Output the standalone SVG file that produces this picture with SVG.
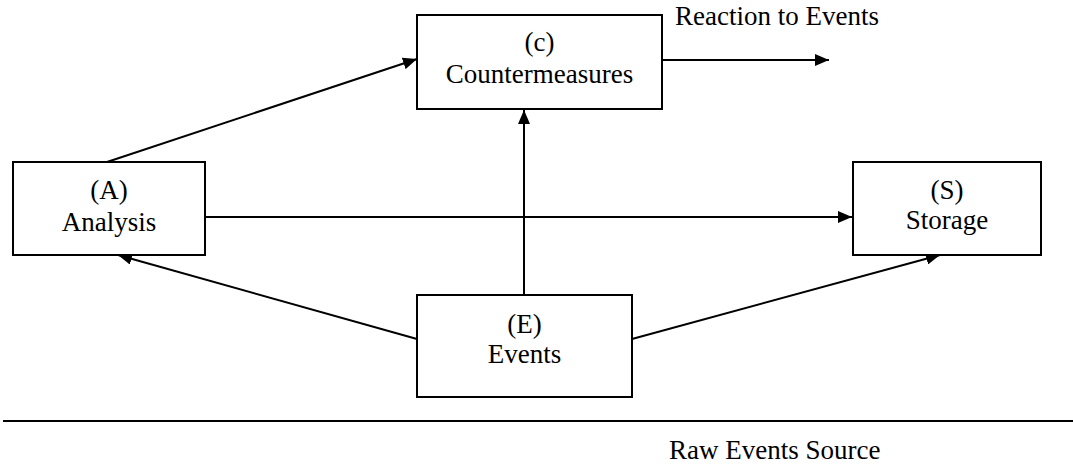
<svg xmlns="http://www.w3.org/2000/svg" width="1073" height="465" viewBox="0 0 1073 465">
<style>
.box{fill:#fff;stroke:#000;stroke-width:2}
.t{font-family:"Liberation Serif","Times New Roman",serif;font-size:27px;fill:#000;text-anchor:middle}
.tl{font-family:"Liberation Serif","Times New Roman",serif;font-size:27px;fill:#000}
.c{stroke:#000;stroke-width:2;fill:none}
</style>
<defs>
<marker id="ah" viewBox="0 0 14 12" refX="14" refY="6" markerWidth="14" markerHeight="12" markerUnits="userSpaceOnUse" orient="auto">
<path d="M0,0 L14,6 L0,12 Z" fill="#000"/>
</marker>
</defs>
<rect width="1073" height="465" fill="#fff"/>
<g id="connectors">
<line class="c" x1="107" y1="162" x2="417" y2="59" marker-end="url(#ah)"/>
<line class="c" x1="662" y1="60" x2="829" y2="60" marker-end="url(#ah)"/>
<line class="c" x1="205" y1="217" x2="852" y2="217" marker-end="url(#ah)"/>
<line class="c" x1="524" y1="295" x2="524" y2="110" marker-end="url(#ah)"/>
<line class="c" x1="417" y1="339" x2="118" y2="255" marker-end="url(#ah)"/>
<line class="c" x1="632" y1="339" x2="940" y2="255" marker-end="url(#ah)"/>
<line class="c" x1="3" y1="421" x2="1073" y2="421"/>
</g>
<g id="countermeasures">
<rect class="box" x="417" y="15" width="245" height="94"/>
<text class="t" x="539.5" y="51">(c)</text>
<text class="t" x="539.5" y="83">Countermeasures</text>
</g>
<g id="analysis">
<rect class="box" x="13" y="162" width="192" height="93"/>
<text class="t" x="109" y="199">(A)</text>
<text class="t" x="109" y="231">Analysis</text>
</g>
<g id="storage">
<rect class="box" x="853" y="162" width="188" height="93"/>
<text class="t" x="947" y="199">(S)</text>
<text class="t" x="947" y="229">Storage</text>
</g>
<g id="events">
<rect class="box" x="417" y="295" width="215" height="102"/>
<text class="t" x="524.5" y="333">(E)</text>
<text class="t" x="524.5" y="363">Events</text>
</g>
<g id="labels">
<text class="tl" x="675" y="25">Reaction to Events</text>
<text class="tl" x="669" y="459">Raw Events Source</text>
</g>
</svg>
